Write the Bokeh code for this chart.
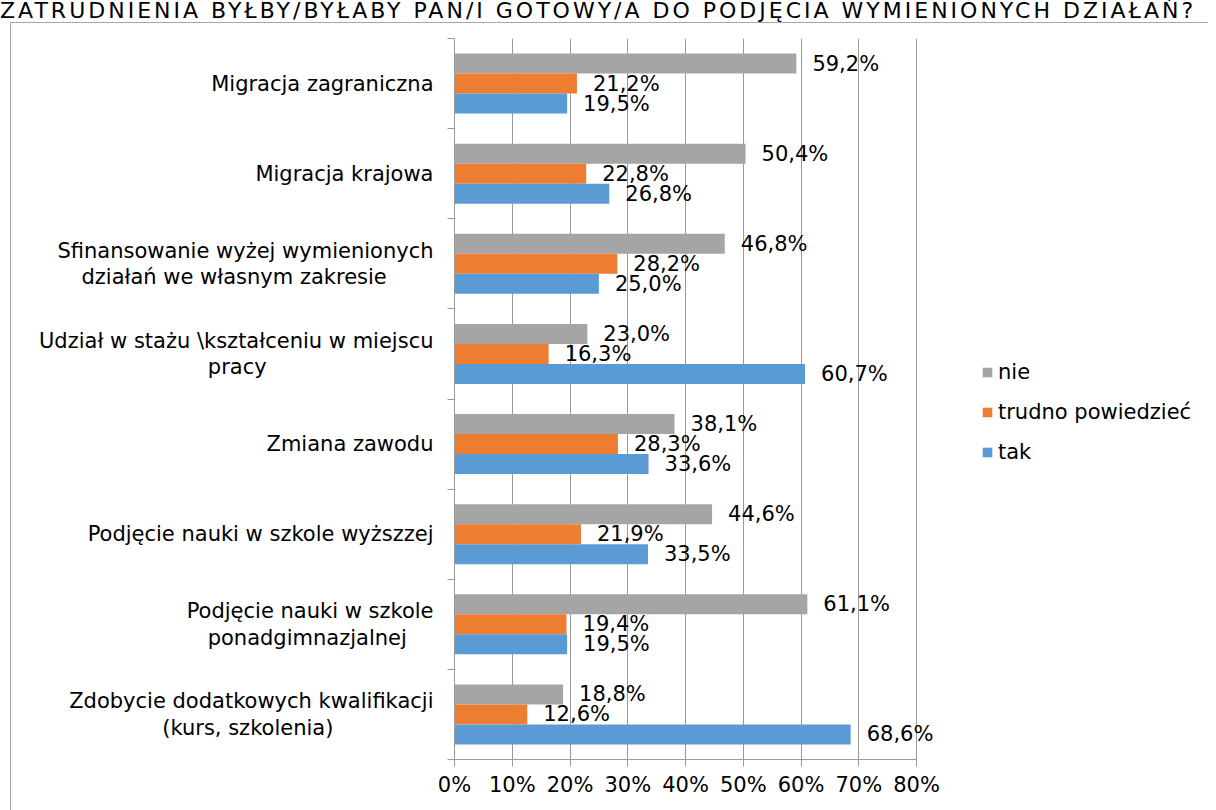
from bokeh.plotting import figure
from bokeh.layouts import column
from bokeh.models import (ColumnDataSource, FixedTicker, LabelSet, Legend, LegendItem,
                          PrintfTickFormatter, Range1d, Div)
from bokeh.core.properties import value
from bokeh.embed import file_html
from bokeh.resources import INLINE

# ---------------- data ----------------
categories = [
    "Migracja zagraniczna",
    "Migracja krajowa",
    "Sfinansowanie wyżej wymienionych\ndziałań we własnym zakresie",
    "Udział w stażu \\kształceniu w miejscu\npracy",
    "Zmiana zawodu",
    "Podjęcie nauki w szkole wyższzej",
    "Podjęcie nauki w szkole\nponadgimnazjalnej",
    "Zdobycie dodatkowych kwalifikacji\n(kurs, szkolenia)",
]
nie = [59.2, 50.4, 46.8, 23.0, 38.1, 44.6, 61.1, 18.8]
trudno = [21.2, 22.8, 28.2, 16.3, 28.3, 21.9, 19.4, 12.6]
tak = [19.5, 26.8, 25.0, 60.7, 33.6, 33.5, 19.5, 68.6]
series_names = ["nie", "trudno powiedzieć", "tak"]
series_colors = ["#A5A5A5", "#ED7D31", "#5B9BD5"]
x_ticks = [0, 10, 20, 30, 40, 50, 60, 70, 80]
title_text = "ZATRUDNIENIA BYŁBY/BYŁABY PAN/I GOTOWY/A DO PODJĘCIA WYMIENIONYCH DZIAŁAŃ?"

# ---------------- styling / layout ----------------
FONT = "DejaVu Sans"
FS = "21px"
GRID = "#9a9a9a"
BORDER = "#a6a6a6"
BAR_H = 0.222
PX_PER_UNIT = 5.775          # 10 % = 57.75 px as in the original
# non-breaking spaces appended to the 2nd line of wrapped labels so the
# right-aligned block looks centred, like the original
second_line_pad = {2: 7, 3: 25, 6: 4, 7: 15}


def centred(i, text):
    if "\n" not in text:
        return text
    a, b = text.split("\n", 1)
    return a + "\n" + b + "\u00a0" * second_line_pad.get(i, 0)


n = len(categories)
centers = [n - i - 0.5 for i in range(n)]

W, H = 1198, 788
ML, MR, MT, MB = 443, 0, 15, 52
frame_w = W - ML - MR
x_end = frame_w / PX_PER_UNIT   # frame reaches past 80 % so labels/legend are not clipped

p = figure(width=W, height=H, output_backend="svg", toolbar_location=None,
           x_range=Range1d(0, x_end), y_range=Range1d(0, n),
           min_border_left=ML, min_border_right=MR, min_border_top=MT, min_border_bottom=MB)
p.outline_line_color = None
p.background_fill_color = "white"
p.border_fill_color = "white"
p.margin = (0, 0, 0, 10)
p.styles = {"border-left": f"1px solid {BORDER}", "border-top": f"1px solid {BORDER}"}

renderers = []
offsets = [BAR_H, 0.0, -BAR_H]
for name, vals, col, off in zip(series_names, [nie, trudno, tak], series_colors, offsets):
    src = ColumnDataSource(dict(
        x=vals,
        y=[c + off for c in centers],
        lab=[f"{v:.1f}".replace(".", ",") + "%" for v in vals],
    ))
    r = p.hbar(y="y", right="x", left=0, height=BAR_H, source=src,
               fill_color=col, line_color=None)
    renderers.append(r)
    ls = LabelSet(x="x", y="y", text="lab", source=src, x_offset=16, y_offset=0,
                  text_baseline="middle", text_align="left",
                  text_font=value(FONT), text_font_size=value(FS), text_color="black")
    p.add_layout(ls)

# x axis
p.xaxis.ticker = FixedTicker(ticks=x_ticks)
p.xaxis.bounds = (x_ticks[0], x_ticks[-1])
p.xaxis.formatter = PrintfTickFormatter(format="%d%%")
p.xaxis.major_tick_out = 7
p.xaxis.major_tick_in = 0
p.xaxis.minor_tick_out = 0
p.xaxis.minor_tick_in = 0
p.xaxis.axis_line_color = GRID
p.xaxis.major_tick_line_color = GRID
p.xaxis.major_label_standoff = 6
p.xaxis.major_label_text_font = FONT
p.xaxis.major_label_text_font_size = FS
p.xaxis.major_label_text_color = "black"

# y axis
p.yaxis.ticker = FixedTicker(ticks=centers, minor_ticks=list(range(n + 1)))
p.yaxis.major_label_overrides = {c: centred(i, cat) for i, (c, cat) in enumerate(zip(centers, categories))}
p.yaxis.major_tick_out = 0
p.yaxis.major_tick_in = 0
p.yaxis.minor_tick_out = 7
p.yaxis.minor_tick_in = 0
p.yaxis.axis_line_color = GRID
p.yaxis.minor_tick_line_color = GRID
p.yaxis.major_label_standoff = 14
p.yaxis.major_label_text_font = FONT
p.yaxis.major_label_text_font_size = FS
p.yaxis.major_label_text_color = "black"
p.yaxis.major_label_text_line_height = 1.1

# grid
p.xgrid.ticker = FixedTicker(ticks=x_ticks)
p.xgrid.bounds = (x_ticks[0], x_ticks[-1])
p.xgrid.grid_line_color = GRID
p.ygrid.grid_line_color = None

# legend (inside the wide frame, to the right of the 80 % line)
legend = Legend(items=[LegendItem(label=nm, renderers=[r]) for nm, r in zip(series_names, renderers)],
                location=(527, 295), orientation="vertical",
                glyph_width=12, glyph_height=12, label_standoff=5, spacing=16,
                padding=0, margin=0, border_line_color=None, background_fill_alpha=0,
                label_text_font=FONT, label_text_font_size=FS, label_text_color="black")
p.add_layout(legend)

# question title above the chart box
title_div = Div(text=title_text, width=1208, height=22, margin=(0, 0, 0, 0),
                styles={"font-family": FONT, "font-size": "22px", "letter-spacing": "3px",
                        "line-height": "22px", "white-space": "nowrap", "color": "black",
                        "overflow": "visible"})

layout = column(title_div, p, spacing=0)
open("out.html", "w").write(file_html(layout, INLINE))
